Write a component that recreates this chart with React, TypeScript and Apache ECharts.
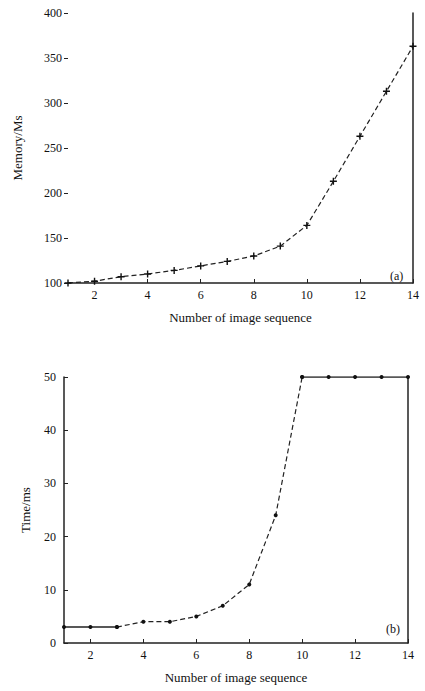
import React, { useEffect, useRef } from "react";
import * as echarts from "echarts";

const seqA = [1, 2, 3, 4, 5, 6, 7, 8, 9, 10, 11, 12, 13, 14];
const memoryValues = [100, 102, 107, 110, 114, 119, 124, 130, 141, 164, 213, 263, 313, 363];
const seqB = [1, 2, 3, 4, 5, 6, 7, 8, 9, 10, 11, 12, 13, 14];
const timeValues = [3, 3, 3, 4, 4, 5, 7, 11, 24, 50, 50, 50, 50, 50];
const xTicks = [2, 4, 6, 8, 10, 12, 14];
const memTicks = [100, 150, 200, 250, 300, 350, 400];
const timeTicks = [0, 10, 20, 30, 40, 50];

const FONT = "Liberation Serif";
const plus = "path://M4,0h2v4h4v2h-4v4h-2v-4h-4v-2h4z";

export default function App() {
  const ref = useRef<HTMLDivElement>(null);
  useEffect(() => {
    const chart = echarts.init(ref.current!, null, { renderer: "svg" });
    const lab = { fontFamily: FONT, fontSize: 12, color: "#111" };
    const axisLine = { show: true, lineStyle: { color: "#222", width: 1.5 } };
    const xAxisBase = (gi: number) => ({
      type: "value",
      gridIndex: gi,
      min: 1,
      max: 14,
      axisLine,
      axisTick: { show: true, inside: true, length: 4, customValues: xTicks, lineStyle: { color: "#222" } },
      axisLabel: { ...lab, customValues: xTicks, margin: 6 },
      splitLine: { show: false },
      name: "Number of image sequence",
      nameLocation: "middle",
      nameGap: 28,
      nameTextStyle: { fontFamily: FONT, fontSize: 13, color: "#111" },
    });
    const bSolid = timeValues.map((v, i) => (i <= 2 || i >= 9 ? [seqB[i], v] : null));
    const bDash = timeValues.map((v, i) => (i >= 2 && i <= 9 ? [seqB[i], v] : null));
    chart.setOption({
      animation: false,
      grid: [
        { left: 68, right: 12, top: 13, height: 270 },
        { left: 64, right: 17, top: 377, height: 266 },
      ],
      xAxis: [xAxisBase(0), xAxisBase(1)],
      yAxis: [
        {
          type: "value",
          gridIndex: 0,
          min: 100,
          max: 400,
          axisLine: { show: false },
          axisTick: { show: true, length: 4, customValues: memTicks, lineStyle: { color: "#222" } },
          axisLabel: { ...lab, customValues: memTicks, margin: 6 },
          splitLine: { show: false },
          name: "Memory/Ms",
          nameLocation: "middle",
          nameRotate: 90,
          nameGap: 44,
          nameTextStyle: { fontFamily: FONT, fontSize: 13, color: "#111" },
        },
        {
          type: "value",
          gridIndex: 0,
          position: "right",
          min: 100,
          max: 400,
          axisLine,
          axisTick: { show: false },
          axisLabel: { show: false },
          splitLine: { show: false },
        },
        {
          type: "value",
          gridIndex: 1,
          min: 0,
          max: 50,
          axisLine,
          axisTick: { show: true, inside: true, length: 4, customValues: timeTicks, lineStyle: { color: "#222" } },
          axisLabel: { ...lab, customValues: timeTicks, margin: 8 },
          splitLine: { show: false },
          name: "Time/ms",
          nameLocation: "middle",
          nameRotate: 90,
          nameGap: 32,
          nameTextStyle: { fontFamily: FONT, fontSize: 13, color: "#111" },
        },
        {
          type: "value",
          gridIndex: 1,
          position: "right",
          min: 0,
          max: 50,
          axisLine,
          axisTick: { show: false },
          axisLabel: { show: false },
          splitLine: { show: false },
        },
      ],
      series: [
        {
          type: "line",
          xAxisIndex: 0,
          yAxisIndex: 0,
          data: seqA.map((x, i) => [x, memoryValues[i]]),
          symbol: plus,
          symbolSize: 7,
          itemStyle: { color: "#111" },
          lineStyle: { color: "#222", width: 1.2, type: [5, 3] },
        },
        {
          type: "line",
          xAxisIndex: 1,
          yAxisIndex: 2,
          data: bDash,
          connectNulls: false,
          symbol: "circle",
          symbolSize: 4,
          itemStyle: { color: "#111" },
          lineStyle: { color: "#222", width: 1.2, type: [5, 3] },
        },
        {
          type: "line",
          xAxisIndex: 1,
          yAxisIndex: 2,
          data: bSolid,
          connectNulls: false,
          symbol: "circle",
          symbolSize: 4,
          itemStyle: { color: "#111" },
          lineStyle: { color: "#222", width: 1.5 },
        },
      ],
      graphic: [
        { type: "text", left: 390, top: 270, style: { text: "(a)", font: `12px ${FONT}`, fill: "#111" } },
        { type: "text", left: 386, top: 623, style: { text: "(b)", font: `12px ${FONT}`, fill: "#111" } },
      ],
    });
    return () => chart.dispose();
  }, []);
  return <div ref={ref} style={{ width: 425, height: 691, position: "absolute", left: 0, top: 0 }} />;
}
